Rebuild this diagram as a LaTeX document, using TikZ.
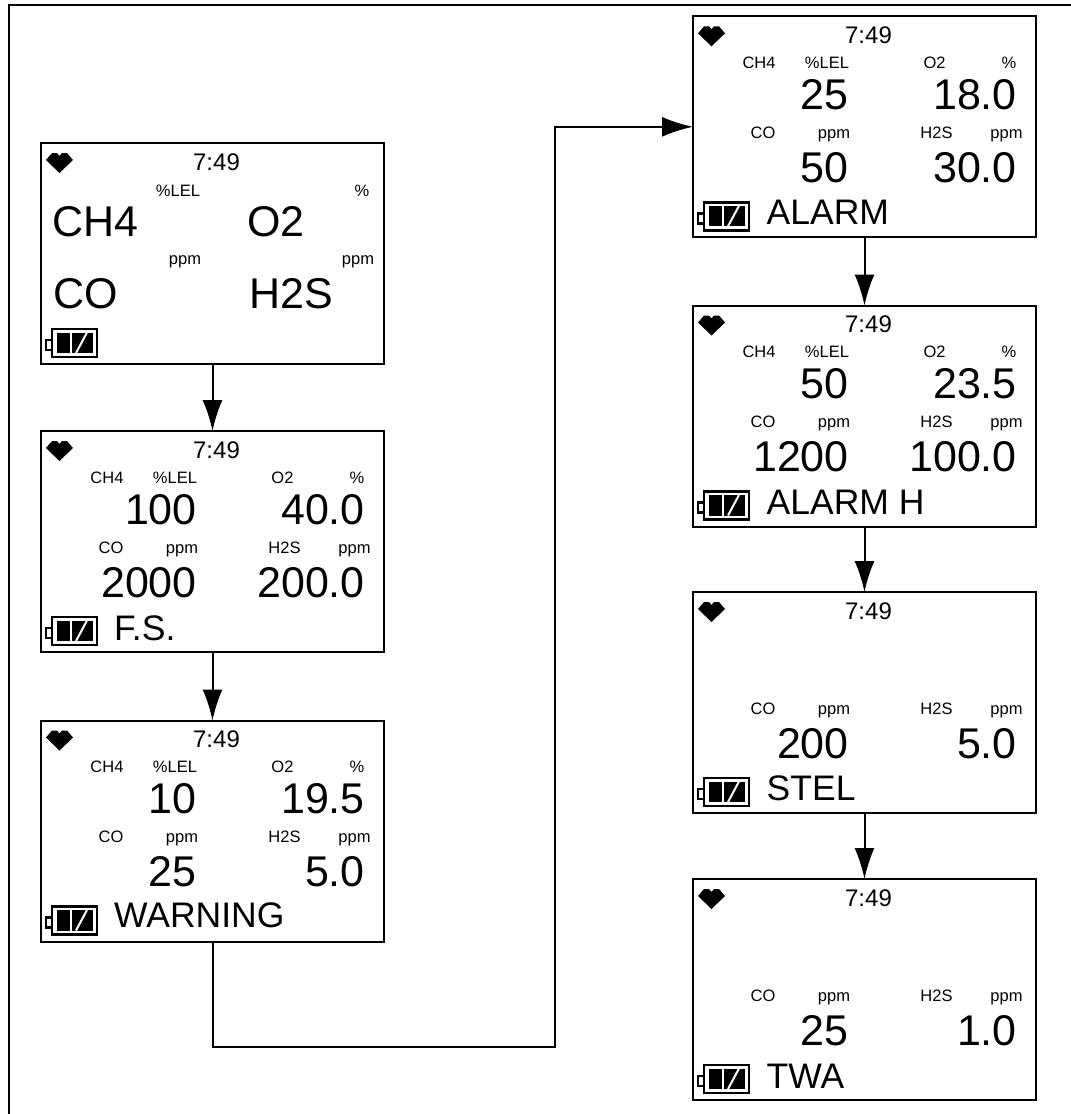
\documentclass[tikz,border=0pt]{standalone}
\usepackage{fontspec}
\setmainfont{Liberation Sans}
\usetikzlibrary{arrows.meta,positioning}
\tikzstyle{arrow} = [line width=2pt,-{Latex[length=31pt,width=20pt]},color=black]
\tikzstyle{screen} = [rectangle, anchor=north west, minimum width=343pt, minimum height=221pt, draw=black, line width=2pt, outer sep=0pt, inner sep=0pt]
\tikzstyle{timetext} = [anchor=base, inner sep=0pt, font=\fontsize{24}{24}\selectfont]
\tikzstyle{unittext} = [anchor=base, inner sep=0pt, font=\fontsize{16.5}{17}\selectfont]
\tikzstyle{valuetext} = [anchor=base east, inner sep=0pt, font=\fontsize{43}{43}\selectfont]
\tikzstyle{gastext} = [anchor=base west, inner sep=0pt, font=\fontsize{43}{43}\selectfont]
\tikzstyle{statustext} = [anchor=base west, inner sep=0pt, font=\fontsize{35.5}{36}\selectfont]
% top row of a screen: name, x, y, two values
\newcommand{\gastop}[5]{%
  \begin{scope}[shift={(#2,#3)}]
    \node[unittext] (#1ch) at (66,52) {CH4};
    \node[unittext] (#1lel) at (134,52) {\%LEL};
    \node[unittext] (#1ox) at (241.5,52) {O2};
    \node[unittext] (#1pct) at (316,52) {\%};
    \node[valuetext] (#1va) at (156,93) {#4};
    \node[valuetext] (#1vb) at (324,93) {#5};
  \end{scope}}
% bottom row of a screen
\newcommand{\gasbottom}[5]{%
  \begin{scope}[shift={(#2,#3)}]
    \node[unittext] (#1co) at (70,122) {CO};
    \node[unittext] (#1ppa) at (141,122) {ppm};
    \node[unittext] (#1hs) at (243.5,122) {H2S};
    \node[unittext] (#1ppb) at (313.5,122) {ppm};
    \node[valuetext] (#1vc) at (156,166) {#4};
    \node[valuetext] (#1vd) at (324,166) {#5};
  \end{scope}}
\begin{document}
\begin{tikzpicture}[x=1pt,y=-1pt]
\useasboundingbox (0,0) rectangle (1071,1114);
% Outer frame
\coordinate (framecorner) at (9,5);
\coordinate (frameright) at (1071,5);
\coordinate (framebottom) at (9,1114);
\draw[line width=2pt] (frameright) -- (framecorner) -- (framebottom);

% Screens
\foreach \nm/\sx/\sy in {start/41/143, fs/41/431, warning/41/720.5, alarm/693/16.3, alarmh/693/305.5, stel/693/592, twa/693/879} {
  \node[screen] (\nm) at (\sx,\sy) {};
  \begin{scope}[shift={(\sx,\sy)}]
    \fill (5,17) -- (11,10) -- (16,10) -- (18.5,13) -- (21,10) -- (26,10) -- (32,17) -- (18.5,30) -- cycle;
    \node[timetext] (\nm time) at (175.5,27) {7:49};
    % battery
    \draw[line width=2.5pt] (5,197) rectangle (11,207);
    \draw[line width=2.5pt, fill=white] (11,186) rectangle (56,214);
    \fill (16,189.5) rectangle (29,210);
    \fill (30.5,189.5) rectangle (52,210);
    \draw[white, line width=2pt] (35,210) -- (46,189.5);
  \end{scope}
}

% Start screen labels
\node[gastext] (startch) at (52.5,236) {CH4};
\node[gastext] (startox) at (247,236) {O2};
\node[gastext] (startco) at (53,308) {CO};
\node[gastext] (starths) at (249,308) {H2S};
\node[unittext] (startlel) at (178,196) {\%LEL};
\node[unittext] (startpct) at (362,196) {\%};
\node[unittext] (startppa) at (185,264) {ppm};
\node[unittext] (startppb) at (358,264) {ppm};

% Readings
\gastop{fs}{41}{431}{100}{40.0}
\gasbottom{fs}{41}{431}{2000}{200.0}
\gastop{warning}{41}{720.5}{10}{19.5}
\gasbottom{warning}{41}{720.5}{25}{5.0}
\gastop{alarm}{693}{16.3}{25}{18.0}
\gasbottom{alarm}{693}{16.3}{50}{30.0}
\gastop{alarmh}{693}{305.5}{50}{23.5}
\gasbottom{alarmh}{693}{305.5}{1200}{100.0}
\gasbottom{stel}{693}{592}{200}{5.0}
\gasbottom{twa}{693}{879}{25}{1.0}

% Status lines
\foreach \nm/\sx/\sy/\stat in {fs/114/640/F.S., warning/114/927/WARNING, alarm/766.5/224/ALARM, alarmh/766.5/514/ALARM H, stel/766.5/800/STEL, twa/766.5/1088/TWA} {
  \node[statustext] (\nm status) at (\sx,\sy) {\stat};
}

% Arrows
\coordinate (turn) at (555,1047);
\draw[arrow] (start) -- (fs);
\draw[arrow] (fs) -- (warning);
\draw[arrow] (warning.south) |- (turn) |- (alarm.west);
\draw[arrow] (alarm) -- (alarmh);
\draw[arrow] (alarmh) -- (stel);
\draw[arrow] (stel) -- (twa);
\end{tikzpicture}
\end{document}
